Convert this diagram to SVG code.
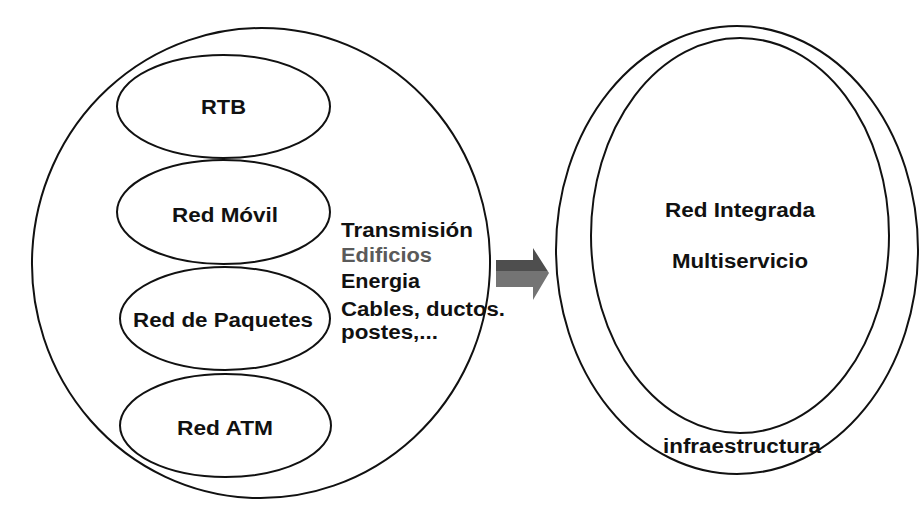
<svg xmlns="http://www.w3.org/2000/svg" width="919" height="509" viewBox="0 0 919 509">
  <style>
    .ring { fill: none; stroke: #111; stroke-width: 2; }
    .lbl { font-family: "Liberation Sans", Arial, sans-serif; font-weight: bold; font-size: 20px; fill: #111; }
    .mid { text-anchor: middle; }
    .gray { fill: #5a5a5a; }
  </style>
  <defs>
    <linearGradient id="arrowFill" gradientUnits="userSpaceOnUse" x1="0" y1="248" x2="0" y2="300">
      <stop offset="0" stop-color="#4e4e4e"/>
      <stop offset="0.44" stop-color="#4e4e4e"/>
      <stop offset="0.44" stop-color="#747474"/>
      <stop offset="1" stop-color="#747474"/>
    </linearGradient>
  </defs>
  <rect x="0" y="0" width="919" height="509" fill="#ffffff"/>

  <g id="infraestructura-actual">
    <ellipse class="ring" cx="261" cy="263" rx="229" ry="235" transform="rotate(3 261 263)"/>
    <text class="lbl" x="341" y="237" textLength="132" lengthAdjust="spacingAndGlyphs">Transmisión</text>
    <text class="lbl gray" x="341" y="262" textLength="91" lengthAdjust="spacingAndGlyphs">Edificios</text>
    <text class="lbl" x="341" y="288" textLength="79" lengthAdjust="spacingAndGlyphs">Energia</text>
    <text class="lbl" x="341" y="316" textLength="164" lengthAdjust="spacingAndGlyphs">Cables, ductos.</text>
    <text class="lbl" x="341" y="339" textLength="97" lengthAdjust="spacingAndGlyphs">postes,...</text>
  </g>

  <g id="rtb">
    <ellipse class="ring" cx="223.5" cy="106.5" rx="106.5" ry="51.5"/>
    <text class="lbl mid" x="223.5" y="114" textLength="45" lengthAdjust="spacingAndGlyphs">RTB</text>
  </g>
  <g id="red-movil">
    <ellipse class="ring" cx="223.5" cy="212" rx="106.5" ry="52"/>
    <text class="lbl mid" x="225" y="222" textLength="106" lengthAdjust="spacingAndGlyphs">Red Móvil</text>
  </g>
  <g id="red-paquetes">
    <ellipse class="ring" cx="225" cy="318.5" rx="105" ry="51.5"/>
    <text class="lbl mid" x="223" y="327" textLength="180" lengthAdjust="spacingAndGlyphs">Red de Paquetes</text>
  </g>
  <g id="red-atm">
    <ellipse class="ring" cx="225.5" cy="425.5" rx="105.5" ry="51.5"/>
    <text class="lbl mid" x="225" y="435" textLength="96" lengthAdjust="spacingAndGlyphs">Red ATM</text>
  </g>

  <g id="connectors">
    <polygon points="496,260 533,260 533,248 549,273 533,300 533,287 496,287" fill="url(#arrowFill)"/>
  </g>

  <g id="infraestructura-integrada">
    <ellipse class="ring" cx="737" cy="250" rx="181" ry="224"/>
    <text class="lbl mid" x="742" y="453" textLength="158" lengthAdjust="spacingAndGlyphs">infraestructura</text>
  </g>
  <g id="red-integrada">
    <ellipse class="ring" cx="740" cy="235.5" rx="149" ry="197.5"/>
    <text class="lbl mid" x="740" y="217" textLength="150" lengthAdjust="spacingAndGlyphs">Red Integrada</text>
    <text class="lbl mid" x="740" y="268" textLength="136" lengthAdjust="spacingAndGlyphs">Multiservicio</text>
  </g>
</svg>
